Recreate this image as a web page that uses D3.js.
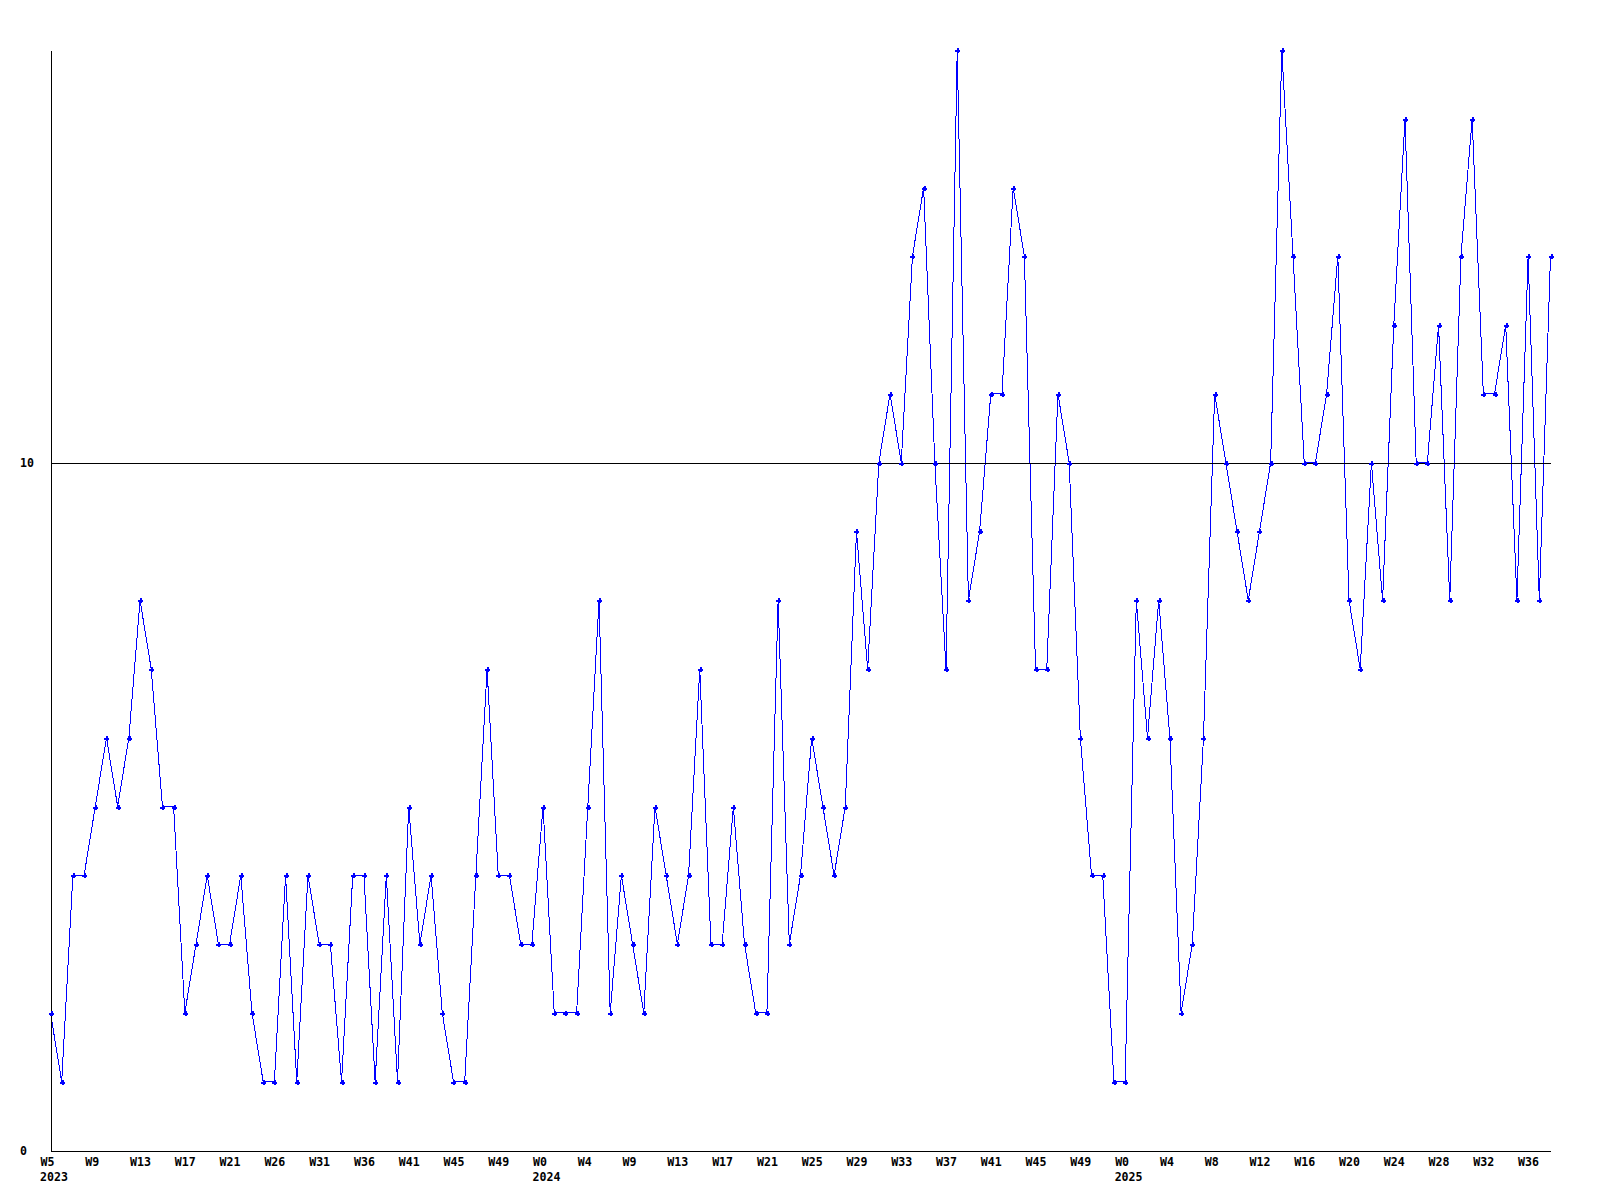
<!DOCTYPE html>
<html><head><meta charset="utf-8">
<script src="https://cdn.jsdelivr.net/npm/d3@7"></script>
<style>body{margin:0;background:#fff}svg{display:block;background:#fff}</style>
</head><body><svg id="c" width="1600" height="1200"></svg>
<script>
const values = [
  2,1,4,4,5,6,5,6,8,7,
  5,5,2,3,4,3,3,4,2,1,
  1,4,1,4,3,3,1,4,4,1,
  4,1,5,3,4,2,1,1,4,7,
  4,4,3,3,5,2,2,2,5,8,
  2,4,3,2,5,4,3,4,7,3,
  3,5,3,2,2,8,3,4,6,5,
  4,5,9,7,10,11,10,13,14,10,
  7,16,8,9,11,11,14,13,7,7,
  11,10,6,4,4,1,1,8,6,8,
  6,2,3,6,11,10,9,8,9,10,
  16,13,10,10,11,13,8,7,10,8,
  12,15,10,10,12,8,13,15,11,11,
  12,8,13,8,13
];
const weekLabels = [
  "W5","W9","W13","W17","W21","W26","W31","W36","W41","W45","W49",
  "W0","W4","W9","W13","W17","W21","W25","W29","W33","W37","W41","W45","W49",
  "W0","W4","W8","W12","W16","W20","W24","W28","W32","W36"
];
const tickStep = 4;
const yearIndex = [0, 44, 96];
const yearText = ["2023", "2024", "2025"];
const yTicks = [0, 10];
const yMax = 16;

const svg = d3.select("#c");
const FONT = "'DejaVu Sans Mono', 'Liberation Mono', monospace";

const x = d3.scaleLinear().domain([0, values.length - 1]).range([50.5, 1550.5]);
const y = d3.scaleLinear().domain([0, yMax]).range([1150.5, 50]);

const tickIdx = weekLabels.map((d, i) => i * tickStep);

// data line
const line = d3.line().x((d, i) => x(i)).y(d => y(d));
svg.append("path").datum(values)
  .attr("d", line)
  .attr("fill", "none")
  .attr("stroke", "#0000ff")
  .attr("stroke-width", 1)
  .attr("shape-rendering", "crispEdges");

// grid line at 10
svg.selectAll("line.grid").data(yTicks.filter(v => v > 0)).join("line")
  .attr("class", "grid")
  .attr("x1", x(0)).attr("x2", x(values.length - 1))
  .attr("y1", d => Math.round(y(d)) + 0.5).attr("y2", d => Math.round(y(d)) + 0.5)
  .attr("stroke", "#000").attr("stroke-width", 1)
  .attr("shape-rendering", "crispEdges");

// left axis
const yAxis = d3.axisLeft(y).tickValues(yTicks).tickSize(0).tickFormat(d3.format("d"));
const gy = svg.append("g").attr("transform", `translate(${x(0)},0)`).call(yAxis);
gy.select(".domain").attr("stroke", "#000").attr("shape-rendering", "crispEdges");
gy.selectAll("text")
  .attr("x", 20 - x(0))
  .attr("text-anchor", "start")
  .attr("dy", "0.35em")
  .attr("font-family", FONT).attr("font-weight", "bold").attr("font-size", "11.6px")
  .attr("fill", "#000");

// bottom axis
const xAxis = d3.axisBottom(x).tickValues(tickIdx).tickSize(0)
  .tickFormat((d, i) => weekLabels[i]);
const gx = svg.append("g").attr("transform", `translate(0,${y(0)})`).call(xAxis);
gx.select(".domain").attr("stroke", "#000").attr("shape-rendering", "crispEdges");
gx.selectAll("text")
  .attr("x", -10.5)
  .attr("y", 15)
  .attr("dy", 0)
  .attr("text-anchor", "start")
  .attr("font-family", FONT).attr("font-weight", "bold").attr("font-size", "11.6px")
  .attr("fill", "#000");

// year labels
svg.append("g").selectAll("text").data(yearIndex).join("text")
  .attr("x", d => x(d) - 10.5)
  .attr("y", y(0) + 30)
  .attr("text-anchor", "start")
  .attr("font-family", FONT).attr("font-weight", "bold").attr("font-size", "11.6px")
  .attr("fill", "#000")
  .text((d, i) => yearText[i]);

// markers
svg.append("g").selectAll("path").data(values).join("path")
  .attr("transform", (d, i) => `translate(${Math.round(x(i))},${Math.round(y(d))})`)
  .attr("d", "M-2,0.5H3M0.5,-2V3")
  .attr("stroke", "#0000ff")
  .attr("stroke-width", 2)
  .attr("shape-rendering", "crispEdges");
</script>
</body></html>
